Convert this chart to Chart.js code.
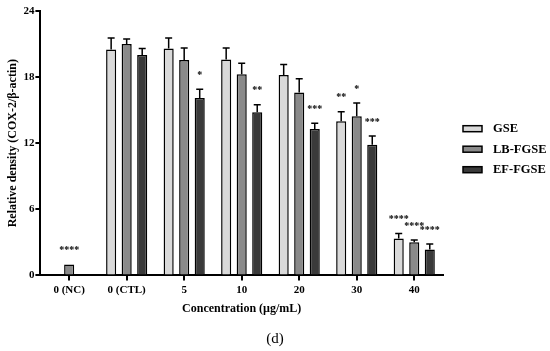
<!DOCTYPE html>
<html>
<head>
<meta charset="utf-8">
<script src="https://cdn.jsdelivr.net/npm/chart.js@4.4.0/dist/chart.umd.min.js"></script>
<style>
html,body{margin:0;padding:0;background:#fff;}
#wrap{width:550px;height:351px;position:relative;}
</style>
</head>
<body>
<div id="wrap"><canvas id="c"></canvas></div>
<script>
const categories = ['0 (NC)', '0 (CTL)', '5', '10', '20', '30', '40'];
const seriesNames = ['GSE', 'LB-FGSE', 'EF-FGSE'];
const gse    = [null, 20.5, 20.6, 19.6, 18.2, 14.0, 3.35];
const gseErr = [null, 1.05, 0.95, 1.05, 0.95, 0.85, 0.45];
const lb     = [1.0, 21.0, 19.55, 18.25, 16.6, 14.45, 3.0];
const lbErr  = [0, 0.45, 1.1, 1.0, 1.25, 1.2, 0.22];
const ef     = [null, 20.0, 16.1, 14.8, 13.3, 11.85, 2.35];
const efErr  = [null, 0.6, 0.8, 0.7, 0.5, 0.8, 0.5];
const gseSig = ['', '', '', '', '', '**', '****'];
const lbSig  = ['****', '', '', '', '', '*', '****'];
const efSig  = ['', '', '*', '**', '***', '***', '****'];
const yTicks = [0, 6, 12, 18, 24];
const panelLabel = '(d)';

const errs = [gseErr, lbErr, efErr];
const sigs = [gseSig, lbSig, efSig];

const serif = "'Times New Roman', 'Liberation Serif', 'DejaVu Serif', serif";

const errorBarPlugin = {
  id: 'errorBars',
  afterDatasetsDraw(chart) {
    const ctx = chart.ctx;
    const y = chart.scales.y;
    chart.data.datasets.forEach((ds, di) => {
      const meta = chart.getDatasetMeta(di);
      meta.data.forEach((bar, i) => {
        const v = ds.data[i];
        if (v === null || v === undefined) return;
        const e = errs[di][i] || 0;
        const yv = y.getPixelForValue(v);
        const yt = y.getPixelForValue(v + e);
        ctx.save();
        ctx.strokeStyle = '#000';
        ctx.lineWidth = 1.5;
        if (e > 0) {
          ctx.beginPath();
          ctx.moveTo(bar.x, yv);
          ctx.lineTo(bar.x, yt);
          ctx.moveTo(bar.x - 3.5, yt);
          ctx.lineTo(bar.x + 3.5, yt);
          ctx.stroke();
        }
        const s = sigs[di][i];
        if (s) {
          ctx.fillStyle = '#000';
          ctx.font = "bold 10px " + serif;
          ctx.textAlign = 'center';
          ctx.textBaseline = 'middle';
          ctx.fillText(s, bar.x, yt - 14);
        }
        ctx.restore();
      });
    });
  }
};

// legend to the right of the plot (from the datasets' labels and colours) and the panel label
const sideLegendPlugin = {
  id: 'sideLegend',
  afterDraw(chart) {
    const ctx = chart.ctx;
    const area = chart.chartArea;
    const x0 = area.right + 20;
    const yMid = (area.top + area.bottom) / 2 + 6;
    const step = 20.5;
    const n = chart.data.datasets.length;
    ctx.save();
    chart.data.datasets.forEach((ds, i) => {
      const yc = yMid + (i - (n - 1) / 2) * step;
      ctx.fillStyle = ds.backgroundColor;
      ctx.strokeStyle = '#000';
      ctx.lineWidth = 1.5;
      ctx.fillRect(x0, yc - 3, 19, 6);
      ctx.strokeRect(x0, yc - 3, 19, 6);
      ctx.fillStyle = '#000';
      ctx.font = "bold 12.5px " + serif;
      ctx.textAlign = 'left';
      ctx.textBaseline = 'middle';
      ctx.fillText(ds.label, x0 + 30, yc + 0.5);
    });
    ctx.fillStyle = '#000';
    ctx.font = "15px " + serif;
    ctx.textAlign = 'center';
    ctx.textBaseline = 'middle';
    ctx.fillText(panelLabel, chart.width / 2, chart.height - 12);
    ctx.restore();
  }
};

new Chart(document.getElementById('c'), {
  type: 'bar',
  data: {
    labels: categories,
    datasets: [
      { label: seriesNames[0], data: gse, backgroundColor: '#d9d9d9', borderColor: '#000', borderWidth: 1.5 },
      { label: seriesNames[1], data: lb,  backgroundColor: '#8a8a8a', borderColor: '#000', borderWidth: 1.5 },
      { label: seriesNames[2], data: ef,  backgroundColor: '#3a3a3a', borderColor: '#000', borderWidth: 1.5 }
    ]
  },
  options: {
    responsive: true,
    maintainAspectRatio: false,
    animation: false,
    skipNull: false,
    datasets: { bar: { categoryPercentage: 0.81, barPercentage: 0.65 } },
    layout: { padding: { left: 6, right: 107, top: 11, bottom: 35 } },
    plugins: {
      tooltip: { enabled: false },
      legend: { display: false },
      title: { display: false }
    },
    scales: {
      x: {
        offset: true,
        grid: { offset: false, drawOnChartArea: false, drawTicks: true, tickLength: 5, color: '#000', lineWidth: 2 },
        border: { color: '#000', width: 2 },
        ticks: { color: '#000', font: { family: serif, size: 11, weight: 'bold' }, padding: 3, maxRotation: 0 },
        title: { display: true, text: 'Concentration (µg/mL)', color: '#000', font: { family: serif, size: 12, weight: 'bold' }, padding: { top: 2, bottom: 0 } }
      },
      y: {
        min: 0, max: 24,
        afterBuildTicks(axis) { axis.ticks = yTicks.map(v => ({ value: v })); },
        grid: { drawOnChartArea: false, drawTicks: true, tickLength: 5, color: '#000', lineWidth: 2 },
        border: { color: '#000', width: 2 },
        ticks: { color: '#000', font: { family: serif, size: 11, weight: 'bold' }, padding: 1 },
        title: { display: true, text: 'Relative density (COX-2/β-actin)', color: '#000', font: { family: serif, size: 12, weight: 'bold' }, padding: { top: 0, bottom: 2 } }
      }
    }
  },
  plugins: [errorBarPlugin, sideLegendPlugin]
});
</script>
</body>
</html>
